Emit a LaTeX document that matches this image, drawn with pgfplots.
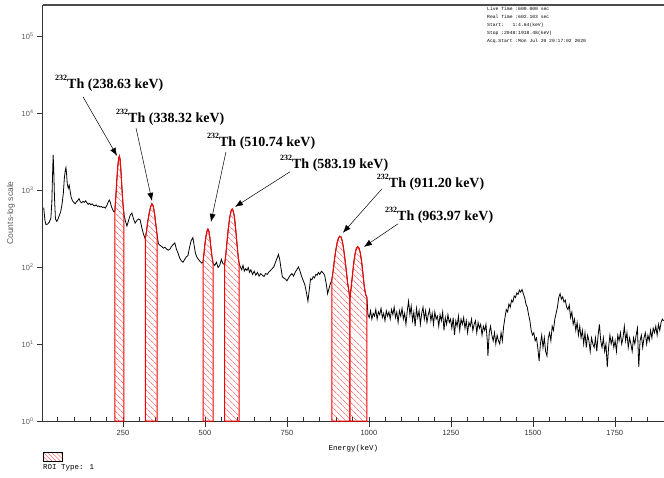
\documentclass[border=0pt]{standalone}
\usepackage{fontspec}
\setmainfont{Liberation Serif}
\newfontfamily\sans{Liberation Sans}
\newfontfamily\mono{Liberation Mono}
\usepackage{pgfplots}
\usepackage{pgfplotstable}
\pgfplotsset{compat=1.18}
\usetikzlibrary{patterns.meta,arrows.meta}

\pgfplotstableread{
E C
8 590
12 400
15 355
20 360
25 380
30 430
33 700
35 1500
37 2850
39 1700
41 800
44 420
48 390
52 420
56 470
60 520
64 650
68 900
71 1400
74 1800
76 1950
78 1600
80 1200
83 1050
86 1150
89 950
92 800
96 720
100 690
104 660
108 700
112 730
116 770
120 700
124 680
128 710
132 690
136 720
140 680
144 650
148 670
152 640
156 660
160 630
164 620
168 640
172 610
176 620
180 600
184 610
188 590
192 600
196 580
200 620
204 680
208 740
211 700
214 620
218 560
222 520
225 520
228 800
231 1300
234 2000
237 2600
239 2750
241 2500
244 1700
247 1000
250 650
253 480
257 400
262 340
267 400
272 470
277 500
282 420
287 370
292 400
297 420
302 410
307 330
312 270
318 230
322 300
326 400
330 500
334 600
338 660
342 620
346 500
350 360
354 260
358 200
363 190
368 185
373 175
378 180
383 170
388 165
393 170
398 185
403 195
408 205
413 170
418 150
423 130
428 120
433 115
438 125
443 135
448 140
453 180
458 220
463 240
467 190
471 150
475 135
480 125
485 118
490 112
494 115
497 150
500 200
503 250
506 290
509 310
512 290
515 240
518 180
521 140
525 110
530 105
535 115
540 98
545 105
550 125
555 110
560 108
564 150
568 230
572 340
576 450
580 540
583 565
586 540
590 440
594 300
598 190
601 140
604 112
608 100
612 92
616 105
620 88
624 95
628 90
632 98
636 85
640 92
645 80
650 88
655 78
660 85
665 76
670 82
675 78
680 75
685 82
690 80
695 86
700 90
705 95
710 100
715 115
720 130
724 145
728 125
732 95
736 75
740 72
745 70
750 66
755 72
760 78
765 82
770 76
775 85
780 92
785 100
790 88
795 75
800 66
805 58
810 45
814 36
818 50
822 70
826 68
830 75
834 72
838 80
842 78
846 85
850 80
855 88
860 84
865 78
870 60
874 45
878 52
882 60
887 68
891 90
895 125
899 165
903 205
907 235
911 250
915 245
919 215
923 170
927 125
931 90
935 62
939 48
942 38
946 55
950 80
954 115
958 150
962 175
966 183
970 175
974 150
978 115
982 80
986 55
990 44
994 40
997 24
1001 22
1005 27
1009 21
1013 25
1017 23
1021 28
1025 21
1029 26
1033 24
1037 29
1041 22
1045 25
1049 20
1053 27
1057 23
1061 26
1065 21
1069 28
1073 24
1077 30
1081 22
1085 26
1089 19
1093 27
1097 23
1101 29
1105 21
1109 25
1113 18
1117 27
1121 36
1125 24
1129 31
1133 20
1137 26
1141 17
1145 29
1149 22
1153 27
1157 18
1161 25
1165 30
1169 21
1173 27
1177 19
1181 24
1185 28
1189 20
1193 25
1197 18
1201 26
1205 21
1209 23
1213 17
1217 24
1221 20
1225 26
1229 15
1233 22
1237 18
1241 24
1245 19
1249 21
1253 16
1257 22
1261 13
1265 20
1269 17
1273 23
1277 15
1281 21
1285 18
1289 22
1293 16
1297 20
1301 14
1305 19
1309 17
1313 21
1317 15
1321 18
1325 20
1329 14
1333 19
1337 16
1341 18
1345 13
1349 17
1353 15
1357 18
1361 11
1363 7
1367 14
1371 17
1375 13
1379 11
1383 14
1387 10
1391 13
1395 11
1399 10
1403 14
1407 11
1411 17
1415 22
1419 28
1423 26
1427 33
1431 30
1435 37
1439 35
1443 42
1447 40
1451 46
1455 44
1459 50
1463 47
1467 51
1471 45
1475 40
1479 33
1483 30
1487 24
1491 20
1495 15
1499 13
1503 14
1507 11
1511 12
1515 9
1519 6
1523 10
1527 13
1531 9
1535 12
1539 8
1543 7
1547 12
1551 14
1555 11
1559 17
1563 15
1567 21
1571 25
1575 30
1579 40
1583 45
1587 38
1591 41
1595 35
1599 37
1603 30
1607 28
1611 32
1615 22
1619 26
1623 18
1627 21
1631 15
1635 19
1639 13
1643 17
1647 12
1651 15
1655 10
1659 14
1663 9
1667 13
1671 11
1675 8
1679 12
1683 10
1687 9
1691 12
1695 8
1699 13
1703 18
1707 11
1711 9
1715 12
1719 8
1723 10
1727 5
1731 9
1735 13
1739 10
1743 12
1747 9
1751 11
1755 8
1759 13
1763 11
1767 14
1771 10
1775 12
1779 17
1783 11
1787 14
1791 9
1795 12
1799 10
1803 8
1807 12
1811 10
1815 13
1819 16
1823 5
1827 11
1831 13
1835 9
1839 12
1843 14
1847 10
1851 13
1855 11
1859 15
1863 12
1867 16
1871 14
1875 17
1879 13
1883 18
1887 15
1891 19
1895 21
1899 20
}\spec

\tikzset{roi/.style={draw=red, line width=1pt, pattern={Lines[angle=-45,distance=4pt,line width=0.5pt]}, pattern color=red!75}}
\newcommand{\lbl}[1]{\raisebox{8pt}{\fontsize{8}{8}\selectfont 232}Th (#1 keV)}

\begin{document}
\begin{tikzpicture}
\path[use as bounding box] (-43pt,-56pt) rectangle (621pt,421pt);
\begin{axis}[
  at={(0,0)}, anchor=south west,
  scale only axis, width=621pt, height=416pt,
  xmin=6, xmax=1900,
  ymode=log, ymin=1, ymax=251189,
  axis lines*=left,
  axis line style={line width=1pt, black!80},
  tick align=outside,
  major tick length=6pt,
  tick style={black!80, line width=0.6pt},
  xtick={250,500,750,1000,1250,1500,1750},
  xticklabels={250,500,750,1000,1250,1500,1750},
  ytick={1,10,100,1000,10000,100000},
  yticklabels={10\textsuperscript{0},10\textsuperscript{1},10\textsuperscript{2},10\textsuperscript{3},10\textsuperscript{4},10\textsuperscript{5}},
  yminorticks=false,
  extra x ticks={50,100,...,1900},
  extra x tick labels={},
  extra x tick style={tick align=inside, major tick length=4pt},
  x tick label style={font=\sans\fontsize{7.5}{8}\selectfont, text=black!80},
  y tick label style={font=\sans\fontsize{7.5}{8}\selectfont, text=black!65},
  ylabel={Counts-log scale},
  ylabel style={font=\sans\fontsize{8.5}{9}\selectfont, text=black!65},
  xlabel={Energy(keV)},
  xlabel style={font=\mono\fontsize{7.5}{8}\selectfont, yshift=4pt},
  clip mode=individual,
]
\addplot[black, line width=0.8pt] table[x=E, y=C] {\spec};
\addplot[roi, restrict x to domain=225:253] table[x=E, y=C] {\spec} \closedcycle;
\addplot[roi, restrict x to domain=318:354] table[x=E, y=C] {\spec} \closedcycle;
\addplot[roi, restrict x to domain=494:525] table[x=E, y=C] {\spec} \closedcycle;
\addplot[roi, restrict x to domain=560:604] table[x=E, y=C] {\spec} \closedcycle;
\addplot[roi, restrict x to domain=887:942] table[x=E, y=C] {\spec} \closedcycle;
\addplot[roi, restrict x to domain=942:994] table[x=E, y=C] {\spec} \closedcycle;

\draw[line width=1.2pt, black!70] (rel axis cs:0,1) -- (rel axis cs:1,1);

\begin{scope}[every node/.style={anchor=base west, inner sep=0pt, font=\bfseries\fontsize{14}{14}\selectfont}]
\node at (axis cs:42.7,20500) {\lbl{238.63}};
\node at (axis cs:228.7,7413) {\lbl{338.32}};
\node at (axis cs:506,3616) {\lbl{510.74}};
\node at (axis cs:728.7,1875) {\lbl{583.19}};
\node at (axis cs:1024,1062) {\lbl{911.20}};
\node at (axis cs:1049,396) {\lbl{963.97}};
\end{scope}
\begin{scope}[-{Latex[length=8pt,width=6pt]}, line width=0.5pt]
\draw (axis cs:128,16140) -- (axis cs:231.7,2766);
\draw (axis cs:289.6,6383) -- (axis cs:338.4,720);
\draw (axis cs:564,3117) -- (axis cs:518.3,384);
\draw (axis cs:759,1713) -- (axis cs:591.5,602);
\draw (axis cs:1039.6,1030) -- (axis cs:920.7,277);
\draw (axis cs:1088.4,362) -- (axis cs:984.8,182);
\end{scope}
\end{axis}

\node[anchor=north west, align=left, inner sep=0pt, font=\mono\fontsize{4.7}{8}\selectfont] at (444pt,414pt)
 {Live Time :600.000 sec\\Real Time :602.103 sec\\Start:\ \ \ 1:4.64(keV)\\Stop :2048:1918.48(keV)\\Acq.Start :Mon Jul 20 20:17:02 2020};

\draw[black, line width=0.5pt, pattern={Lines[angle=-45,distance=3pt,line width=0.5pt]}, pattern color=red!75] (0pt,-31pt) rectangle (19pt,-40pt);
\node[anchor=west, inner sep=0pt, font=\mono\fontsize{7.5}{8}\selectfont] at (0pt,-47pt) {ROI Type: 1};
\end{tikzpicture}
\end{document}
